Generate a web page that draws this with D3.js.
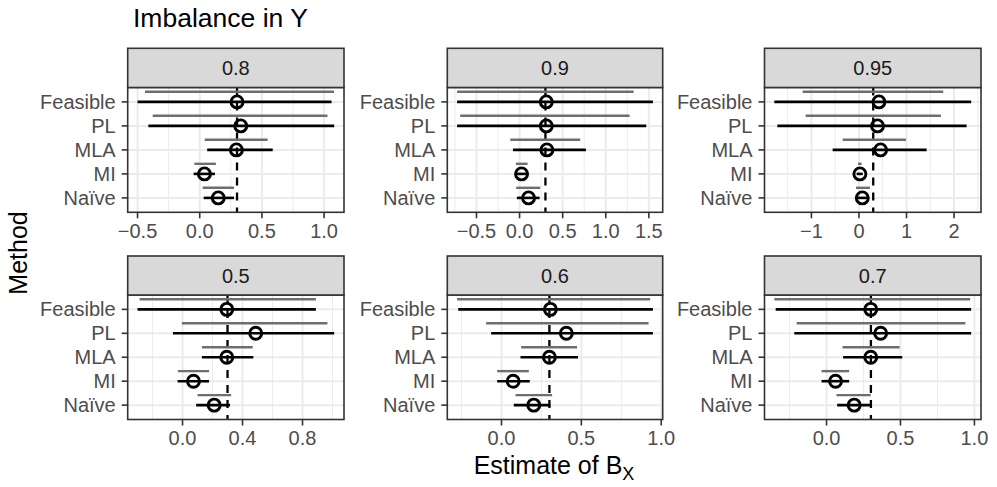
<!DOCTYPE html>
<html><head><meta charset="utf-8">
<script src="https://cdn.jsdelivr.net/npm/d3@7"></script>
<style>body{margin:0;background:#fff}svg{display:block}text{font-family:"Liberation Sans",Arial,sans-serif}</style>
</head><body><svg id="c" width="997" height="487"></svg>
<script>
const methods = ["Feasible","PL","MLA","MI","Naïve"];
const panelLabels = ["0.8","0.9","0.95","0.5","0.6","0.7"];
const truth = 0.3;
// point estimates [panel][method]
const estimate = [
  [0.30, 0.33, 0.295, 0.038, 0.149],
  [0.31, 0.31, 0.317, 0.023, 0.104],
  [0.42, 0.39, 0.455, 0.02, 0.07],
  [0.295, 0.488, 0.295, 0.073, 0.211],
  [0.306, 0.406, 0.30, 0.073, 0.202],
  [0.299, 0.366, 0.299, 0.061, 0.187]
];
// black interval
const blackLo = [
  [-0.50, -0.413, 0.06, -0.049, 0.032],
  [-0.725, -0.725, -0.077, -0.035, -0.031],
  [-1.78, -1.717, -0.554, -0.05, -0.05],
  [-0.30, -0.064, 0.129, -0.033, 0.091],
  [-0.271, -0.065, 0.119, -0.027, 0.077],
  [-0.344, -0.218, 0.112, -0.034, 0.072]
];
const blackHi = [
  [1.06, 1.081, 0.587, 0.122, 0.276],
  [1.547, 1.47, 0.77, 0.08, 0.232],
  [2.36, 2.264, 1.423, 0.08, 0.196],
  [0.889, 1.011, 0.472, 0.177, 0.317],
  [0.948, 0.948, 0.479, 0.177, 0.306],
  [0.978, 0.978, 0.512, 0.153, 0.299]
];
// gray interval
const grayLo = [
  [-0.44, -0.378, 0.04, -0.043, 0.024],
  [-0.725, -0.689, -0.108, -0.043, -0.039],
  [-1.184, -1.121, -0.343, -0.02, -0.063],
  [-0.286, -0.004, 0.129, -0.031, 0.10],
  [-0.278, -0.096, 0.123, -0.027, 0.0875],
  [-0.353, -0.202, 0.108, -0.034, 0.067]
];
const grayHi = [
  [1.08, 1.027, 0.546, 0.13, 0.276],
  [1.323, 1.277, 0.704, 0.093, 0.24],
  [1.773, 1.724, 0.988, 0.056, 0.231],
  [0.889, 0.966, 0.468, 0.177, 0.324],
  [0.931, 0.921, 0.473, 0.171, 0.317],
  [0.971, 0.939, 0.494, 0.153, 0.299]
];
const xTicks = [
  [-0.5, 0, 0.5, 1.0],
  [-0.5, 0, 0.5, 1.0, 1.5],
  [-1, 0, 1, 2],
  [0.0, 0.4, 0.8],
  [0.0, 0.5, 1.0],
  [0.0, 0.5, 1.0]
];
const xTickLabels = [
  ["−0.5","0.0","0.5","1.0"],
  ["−0.5","0.0","0.5","1.0","1.5"],
  ["−1","0","1","2"],
  ["0.0","0.4","0.8"],
  ["0.0","0.5","1.0"],
  ["0.0","0.5","1.0"]
];

const svg = d3.select("#c");
const cols = [[127.7,344],[447.3,662.7],[764.5,981]];
const rows = [{strip:48.3, top:87.5, bottom:212.3},{strip:256, top:295, bottom:419.5}];
const FONT = 20;

svg.append("text").attr("x",133).attr("y",27).attr("font-size",26.5).attr("fill","#000").text("Imbalance in Y");

panelLabels.forEach((lab, p) => {
  const c = cols[p % 3], r = rows[Math.floor(p / 3)];
  const vals = [...blackLo[p], ...blackHi[p], ...grayLo[p], ...grayHi[p], truth];
  const [a, b] = d3.extent(vals);
  const pad = (b - a) * 0.05;
  const x = d3.scaleLinear().domain([a - pad, b + pad]).range([c[0], c[1]]);
  const y = d3.scalePoint().domain(methods).range([r.top, r.bottom]).padding(0.6);
  const g = svg.append("g");
  const dodge = y.step() * 0.42;

  // minor grid
  const tk = xTicks[p];
  const stepT = tk[1] - tk[0];
  const minors = [];
  for (let v = tk[0] - stepT / 2; v <= x.domain()[1]; v += stepT) if (v >= x.domain()[0]) minors.push(v);
  g.selectAll(".mn").data(minors).join("line")
    .attr("x1", d => x(d)).attr("x2", d => x(d)).attr("y1", r.top).attr("y2", r.bottom)
    .attr("stroke", "#EBEBEB").attr("stroke-width", 1);
  // major grid
  g.selectAll(".mj").data(tk).join("line")
    .attr("x1", d => x(d)).attr("x2", d => x(d)).attr("y1", r.top).attr("y2", r.bottom)
    .attr("stroke", "#EBEBEB").attr("stroke-width", 2);
  g.selectAll(".hy").data(methods).join("line")
    .attr("x1", c[0]).attr("x2", c[1]).attr("y1", d => y(d)).attr("y2", d => y(d))
    .attr("stroke", "#EBEBEB").attr("stroke-width", 2);

  // truth dashed line
  g.append("line").attr("x1", x(truth)).attr("x2", x(truth)).attr("y1", r.top).attr("y2", r.bottom)
    .attr("stroke", "#000").attr("stroke-width", 2.3).attr("stroke-dasharray", "8,7");

  // gray intervals
  g.selectAll(".gi").data(methods).join("line")
    .attr("x1", (d, i) => x(grayLo[p][i])).attr("x2", (d, i) => x(grayHi[p][i]))
    .attr("y1", d => y(d) - dodge).attr("y2", d => y(d) - dodge)
    .attr("stroke", "#6E6E6E").attr("stroke-width", 2.4);
  // black intervals
  g.selectAll(".bi").data(methods).join("line")
    .attr("x1", (d, i) => x(blackLo[p][i])).attr("x2", (d, i) => x(blackHi[p][i]))
    .attr("y1", d => y(d)).attr("y2", d => y(d))
    .attr("stroke", "#000").attr("stroke-width", 2.6);
  // points
  g.selectAll(".pt").data(methods).join("circle")
    .attr("cx", (d, i) => x(estimate[p][i])).attr("cy", d => y(d)).attr("r", 6)
    .attr("fill", "none").attr("stroke", "#000").attr("stroke-width", 2.9);

  // panel border
  g.append("rect").attr("x", c[0]).attr("y", r.top).attr("width", c[1] - c[0]).attr("height", r.bottom - r.top)
    .attr("fill", "none").attr("stroke", "#333333").attr("stroke-width", 1.6);
  // strip
  g.append("rect").attr("x", c[0]).attr("y", r.strip).attr("width", c[1] - c[0]).attr("height", r.top - r.strip)
    .attr("fill", "#D9D9D9").attr("stroke", "#333333").attr("stroke-width", 1.6);
  g.append("text").attr("x", (c[0] + c[1]) / 2).attr("y", (r.strip + r.top) / 2 + 7)
    .attr("text-anchor", "middle").attr("font-size", FONT).attr("fill", "#1A1A1A").text(lab);

  // y axis ticks and labels
  g.selectAll(".yt").data(methods).join("line")
    .attr("x1", c[0] - 6).attr("x2", c[0]).attr("y1", d => y(d)).attr("y2", d => y(d))
    .attr("stroke", "#333333").attr("stroke-width", 1.6);
  g.selectAll(".yl").data(methods).join("text")
    .attr("x", c[0] - 12).attr("y", d => y(d) + 7).attr("text-anchor", "end")
    .attr("font-size", FONT).attr("fill", "#4D4D4D").text(d => d);

  // x axis ticks and labels
  g.selectAll(".xt").data(tk).join("line")
    .attr("x1", d => x(d)).attr("x2", d => x(d)).attr("y1", r.bottom).attr("y2", r.bottom + 6)
    .attr("stroke", "#333333").attr("stroke-width", 1.6);
  g.selectAll(".xl").data(tk).join("text")
    .attr("x", d => x(d)).attr("y", r.bottom + 25.5).attr("text-anchor", "middle")
    .attr("font-size", FONT).attr("fill", "#4D4D4D").text((d, i) => xTickLabels[p][i]);
});

// axis titles
const xt = svg.append("text").attr("x", 554).attr("y", 474).attr("text-anchor", "middle")
  .attr("font-size", 25).attr("fill", "#000");
xt.append("tspan").text("Estimate of B");
xt.append("tspan").attr("font-size", 18).attr("dy", 6).text("X");

svg.append("text").attr("transform", "translate(26.5,253) rotate(-90)").attr("text-anchor", "middle")
  .attr("font-size", 25).attr("fill", "#000").text("Method");
</script></body></html>
